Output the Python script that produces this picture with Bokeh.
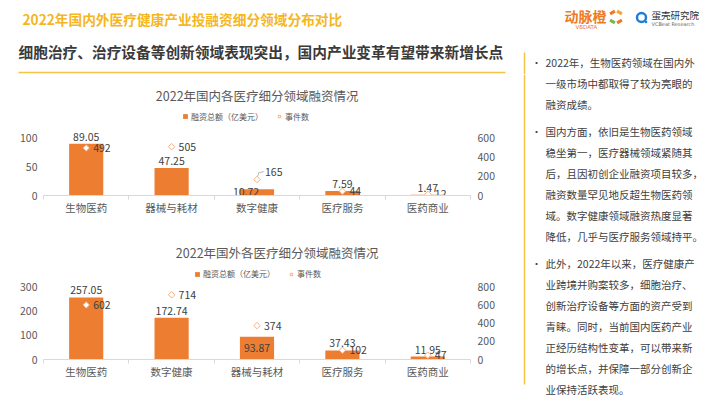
import math
from bokeh.plotting import figure
from bokeh.layouts import row, column
from bokeh.models import (Range1d, LinearAxis, FixedTicker, Label, Legend, LegendItem,
                          ColumnDataSource)
from bokeh.core.properties import value
from bokeh.embed import file_html
from bokeh.resources import INLINE

FONT = "Noto Sans CJK SC"

# ---------------- data ----------------
cats1 = ["生物医药", "器械与耗材", "数字健康", "医疗服务", "医药商业"]
amount1 = [89.05, 47.25, 10.72, 7.59, 1.47]
events1 = [492, 505, 165, 44, 12]
left_ticks1 = [0, 50, 100]
right_ticks1 = [0, 200, 400, 600]

cats2 = ["生物医药", "数字健康", "器械与耗材", "医疗服务", "医药商业"]
amount2 = [257.05, 172.74, 93.87, 37.43, 11.95]
events2 = [602, 714, 374, 102, 47]
left_ticks2 = [0, 100, 200, 300]
right_ticks2 = [0, 200, 400, 600, 800]

title_main = "2022年国内外医疗健康产业投融资细分领域分布对比"
subtitle = "细胞治疗、治疗设备等创新领域表现突出，国内产业变革有望带来新增长点"
chart_title1 = "2022年国内各医疗细分领域融资情况"
chart_title2 = "2022年国外各医疗细分领域融资情况"
legend_bar = "融资总额（亿美元）"
legend_ev = "事件数"

bullets = [
    ["2022年，生物医药领域在国内外", "一级市场中都取得了较为亮眼的", "融资成绩。"],
    ["国内方面，依旧是生物医药领域", "稳坐第一，医疗器械领域紧随其", "后，且因初创企业融资项目较多，",
     "融资数量罕见地反超生物医药领", "域。数字健康领域融资热度显著", "降低，几乎与医疗服务领域持平。"],
    ["此外，2022年以来，医疗健康产", "业跨境并购案较多，细胞治疗、", "创新治疗设备等方面的资产受到",
     "青睐。同时，当前国内医药产业", "正经历结构性变革，可以带来新", "的增长点，并保障一部分创新企",
     "业保持活跃表现。"],
]

# label nudges (pixels) to mimic the reference's label placement
val_dx1 = [0, 0, -11, 0, 0]
val_dy1 = [0, 0, 10, 0, 0]
ev_dx1 = [0, 0, 1, 0, 0]
ev_dy1 = [0, 0, -8, 0, 0]
val_dx2 = [0, 0, 0, 0, 0]
val_dy2 = [0, 0, 18, 0, 0]
ev_dx2 = [0, 0, 0, 0, 0]
ev_dy2 = [0, 0, 0, 0, 0]

BAR = "#ED7D31"
MARK = "#F4B183"
GRAY = "#595959"
DARK = "#404040"
GOLD = "#F5B61E"
RULE = "#F6C445"

FRAME_L, FRAME_R = 43, 470          # page x of the chart plot area
LEFT_W = 512
HEAD_H = 74


def make_chart(cats, amounts, events, lticks, rticks, title, top, axis_y, bottom, px_per_unit,
               title_y, title_cx, legend_left, legend_cy, vdx, vdy, edx, edy, leader=None):
    n = len(cats)
    H = bottom - top
    B = bottom - axis_y
    frame_h = axis_y - top
    y_end = frame_h / px_per_unit
    ratio = rticks[-1] / lticks[-1]
    slot = (FRAME_R - FRAME_L) / n
    p = figure(width=LEFT_W, height=H, x_range=Range1d(0, n), y_range=Range1d(0, y_end),
               x_axis_location=None, y_axis_location=None, toolbar_location=None,
               output_backend="svg", min_border_left=FRAME_L, min_border_right=LEFT_W - FRAME_R,
               min_border_top=0, min_border_bottom=B, outline_line_color=None)
    p.grid.visible = False
    p.extra_y_ranges = {"ev": Range1d(0, y_end * ratio)}

    xpos = [i + 0.5 for i in range(n)]  # category slot centres
    src = ColumnDataSource(dict(
        x=xpos, amt=amounts, ev=events,
        amt_txt=[f"{a:.2f}" for a in amounts], ev_txt=[str(e) for e in events],
        vdx=vdx, vdy=[-3 + d for d in vdy], edx=[7 + d for d in edx], edy=edy))

    bar = p.vbar(x="x", top="amt", width=0.4, source=src, fill_color=BAR, line_color=None)
    p.text(x="x", y="amt", text="amt_txt", source=src, text_align="center",
           text_baseline="bottom", x_offset="vdx", y_offset="vdy",
           text_font=value(FONT), text_font_size="10.5px", text_color=DARK)
    if leader is not None:
        i = leader
        xs = [xpos[i] + 0.005, xpos[i] + 0.02, xpos[i] + 0.08]
        ys = [events[i] + 25, events[i] + 70, events[i] + 82]
        p.line(x=xs, y=ys, y_range_name="ev", line_color="#A6A6A6", line_width=0.8)
    sc = p.scatter(x="x", y="ev", source=src, y_range_name="ev", marker="square",
                   angle=math.pi / 4, size=4.6, fill_color="white", line_color=MARK, line_width=1)
    p.text(x="x", y="ev", text="ev_txt", source=src, y_range_name="ev", text_align="left",
           text_baseline="middle", x_offset="edx", y_offset="edy",
           text_font=value(FONT), text_font_size="10.5px", text_color=DARK)

    left = LinearAxis(ticker=FixedTicker(ticks=lticks), axis_line_color=None,
                      major_tick_line_color=None, minor_tick_line_color=None,
                      major_tick_out=0, minor_tick_out=0,
                      major_label_text_font=FONT, major_label_text_font_size="10.5px",
                      major_label_text_color=GRAY, major_label_standoff=6)
    p.add_layout(left, "left")
    right = LinearAxis(y_range_name="ev", ticker=FixedTicker(ticks=rticks), axis_line_color=None,
                       major_tick_line_color=None, minor_tick_line_color=None,
                       major_tick_out=0, minor_tick_out=0,
                       major_label_text_font=FONT, major_label_text_font_size="10.5px",
                       major_label_text_color=GRAY, major_label_standoff=7)
    p.add_layout(right, "right")
    xaxis = LinearAxis(ticker=FixedTicker(ticks=xpos, minor_ticks=list(range(n + 1))),
                       major_label_overrides={x: c for x, c in zip(xpos, cats)},
                       axis_line_color="#D9D9D9", major_tick_line_color=None,
                       minor_tick_line_color="#D9D9D9", minor_tick_out=4, minor_tick_in=0,
                       major_tick_out=4, major_tick_in=0, major_label_standoff=0,
                       major_label_text_font=FONT, major_label_text_font_size="10.5px",
                       major_label_text_color=GRAY)
    p.add_layout(xaxis, "below")

    p.add_layout(Label(x=(title_cx - FRAME_L) / slot, y=(axis_y - title_y) / px_per_unit,
                       text=title, text_align="center", text_baseline="middle", text_font=FONT,
                       text_font_size="12.5px", text_color=GRAY))

    leg_h = 11.6
    legend = Legend(items=[LegendItem(label=legend_bar, renderers=[bar]),
                           LegendItem(label=legend_ev, renderers=[sc])],
                    location=(legend_left - FRAME_L, axis_y - (legend_cy + leg_h / 2)),
                    orientation="horizontal", margin=0,
                    padding=0, spacing=13, label_standoff=3, glyph_width=6, glyph_height=6,
                    label_text_font=FONT, label_text_font_size="8px", label_text_color=GRAY,
                    background_fill_alpha=0, border_line_color=None)
    p.add_layout(legend, "center")
    return p


c1 = make_chart(cats1, amount1, events1, left_ticks1, right_ticks1, chart_title1,
                top=HEAD_H, axis_y=195, bottom=220, px_per_unit=0.58,
                title_y=95, title_cx=256.7, legend_left=182, legend_cy=116,
                vdx=val_dx1, vdy=val_dy1, edx=ev_dx1, edy=ev_dy1, leader=2)
c2 = make_chart(cats2, amount2, events2, left_ticks2, right_ticks2, chart_title2,
                top=220, axis_y=359, bottom=399, px_per_unit=72.5 / 300,
                title_y=251.5, title_cx=276.7, legend_left=194, legend_cy=273.3,
                vdx=val_dx2, vdy=val_dy2, edx=ev_dx2, edy=ev_dy2)

# ---------------- right column text: line positions ----------------
line_h = 21
gap = 6
y = 62
bullet_pts, text_pts = [], []
for para in bullets:
    bullet_pts.append(y)
    for ln in para:
        text_pts.append((y, ln))
        y += line_h
    y += gap


def draw_side(fig, y0, y1):
    fig.line(x=[524, 524], y=[max(52, y0), min(384, y1)], line_color=RULE, line_width=1.5)
    by = [b for b in bullet_pts if y0 <= b < y1]
    tl = [(yy, t) for yy, t in text_pts if y0 <= yy < y1]
    if by:
        fig.text(x=[536] * len(by), y=by, text=["•"] * len(by), text_font=value(FONT),
                 text_font_size="10px", text_color=DARK, text_baseline="middle",
                 text_align="center")
    if tl:
        fig.text(x=[545] * len(tl), y=[a for a, _ in tl], text=[b for _, b in tl],
                 text_font=value(FONT), text_font_size="10.5px", text_color=DARK,
                 text_baseline="middle", text_align="left")


# ---------------- header (page pixel coordinates) ----------------
h = figure(width=710, height=HEAD_H, x_range=Range1d(0, 710), y_range=Range1d(HEAD_H, 0),
           x_axis_location=None, y_axis_location=None, toolbar_location=None,
           output_backend="svg", min_border=0, outline_line_color=None)
h.grid.visible = False
h.text(x=[22], y=[18], text=[title_main], text_font=value(FONT), text_font_size="13.7px",
       text_font_style="bold", text_color=GOLD, text_baseline="middle", text_align="left")
h.text(x=[18], y=[51], text=[subtitle], text_font=value(FONT), text_font_size="14.7px",
       text_font_style="bold", text_color="#3A3A3A", text_baseline="middle", text_align="left")
h.line(x=[18, 505], y=[72, 72], line_color=RULE, line_width=1.5)

# logo
h.text(x=[564], y=[15], text=["动脉橙"], text_font=value(FONT), text_font_size="14px",
       text_font_style="bold", text_color="#EE7B22", text_baseline="middle", text_align="left")
h.text(x=[575], y=[26], text=["VBDATA"], text_font=value("DejaVu Sans"), text_font_size="5.5px",
       text_color="#EE7B22", text_baseline="middle", text_align="left")
h.rect(x=[612, 619, 612, 619], y=[12, 12, 21, 21], width=5.5, height=3.2,
       angle=[0.5, -0.5, -0.5, 0.5],
       fill_color=["#EE7B22", "#F2A33A", "#7AB648", "#EE7B22"], line_color=None)
h.circle(x=[641], y=[17], radius=4.5, fill_color=None, line_color="#1E7FD8", line_width=2.5)
h.circle(x=[645.5], y=[21.5], radius=1.3, fill_color="#1E7FD8", line_color=None)
h.text(x=[651], y=[14], text=["蛋壳研究院"], text_font=value(FONT), text_font_size="9.5px",
       text_color="#333333", text_baseline="middle", text_align="left")
h.text(x=[651], y=[23], text=["VCBeat Research"], text_font=value("DejaVu Sans"),
       text_font_size="5px", text_color="#666666", text_baseline="middle", text_align="left")
draw_side(h, 0, HEAD_H)

# ---------------- right column ----------------
r = figure(width=710 - LEFT_W, height=399 - HEAD_H, x_range=Range1d(LEFT_W, 710),
           y_range=Range1d(399, HEAD_H),
           x_axis_location=None, y_axis_location=None, toolbar_location=None,
           output_backend="svg", min_border=0, outline_line_color=None)
r.grid.visible = False
draw_side(r, HEAD_H, 399)

layout = column(h, row(column(c1, c2), r))
open("out.html", "w").write(file_html(layout, INLINE))
